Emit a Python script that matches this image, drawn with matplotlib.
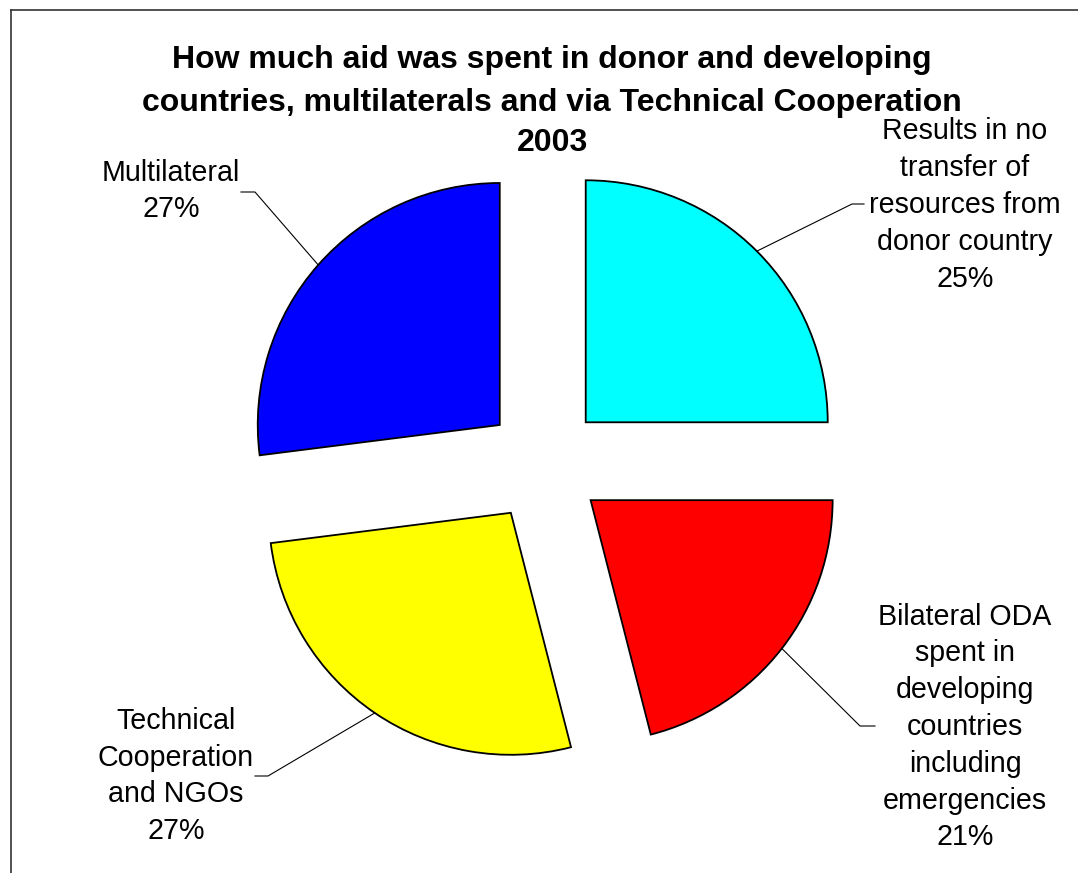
import numpy as np
import matplotlib
matplotlib.use('Agg')
import matplotlib.pyplot as plt
from matplotlib.lines import Line2D

# 数据
categories = ['Results in no\ntransfer of\nresources from\ndonor country',
              'Bilateral ODA\nspent in\ndeveloping\ncountries\nincluding\nemergencies',
              'Technical\nCooperation\nand NGOs',
              'Multilateral']
shares = [25, 21, 27, 27]
colors = ['#00FFFF', '#FF0000', '#FFFF00', '#0000FF']
title_lines = ['How much aid was spent in donor and developing',
               'countries, multilaterals and via Technical Cooperation',
               '2003']

plt.rcParams['font.family'] = ['Liberation Sans', 'DejaVu Sans']

W, H = 1078, 873
fig = plt.figure(figsize=(W / 100, H / 100), dpi=100)
ax = fig.add_axes([0, 0, 1, 1])

# 饼图（像素坐标，y 向上）
cx, cy, r = 544, H - 464, 242
expl = 59  # 分离距离（像素）
ax.pie(shares, colors=colors, explode=[expl] * len(shares), startangle=90,
       counterclock=False, radius=r, center=(cx, cy),
       wedgeprops=dict(edgecolor='black', linewidth=1.3))
ax.set_xlim(0, W)
ax.set_ylim(0, H)
ax.set_aspect('auto')
ax.set_axis_off()

# 标签位置与引线拐点
label_pos = [(965, 205), (965, 727), (176, 776), (171, 191)]
elbows = [((852, 204), (864, 204)),
          ((860, 726), (875, 726)),
          ((268, 776), (255, 776)),
          ((255, 192), (241, 192))]

total = float(sum(shares))
cum = 0.0
for i, v in enumerate(shares):
    frac = v / total
    mid = np.deg2rad(90 - 360 * (cum + frac / 2))
    cum += frac
    wx = cx + expl * np.cos(mid)
    wy = cy + expl * np.sin(mid)
    sx, sy = wx + r * np.cos(mid), wy + r * np.sin(mid)
    (ex, ey), (tx, ty) = elbows[i]
    ax.plot([sx, ex, tx], [sy, H - ey, H - ty], color='black', lw=0.8)
    lx, ly = label_pos[i]
    ax.text(lx, H - ly, f'{categories[i]}\n{v:.0f}%', ha='center', va='center',
            fontsize=20.6, linespacing=1.40, color='black')

# 标题，逐行放置
for line, ty in zip(title_lines, [60, 103, 143]):
    ax.text(552, H - ty, line, ha='center', va='center', fontsize=23,
            fontweight='bold')

# 图表边框
fig.add_artist(Line2D([11 / W, 11 / W], [0, 1 - 10 / H], transform=fig.transFigure,
                      color='#333333', lw=1.2))
fig.add_artist(Line2D([11 / W, 1], [1 - 10 / H, 1 - 10 / H], transform=fig.transFigure,
                      color='#333333', lw=1.2))

fig.savefig('out.png', dpi=100)
